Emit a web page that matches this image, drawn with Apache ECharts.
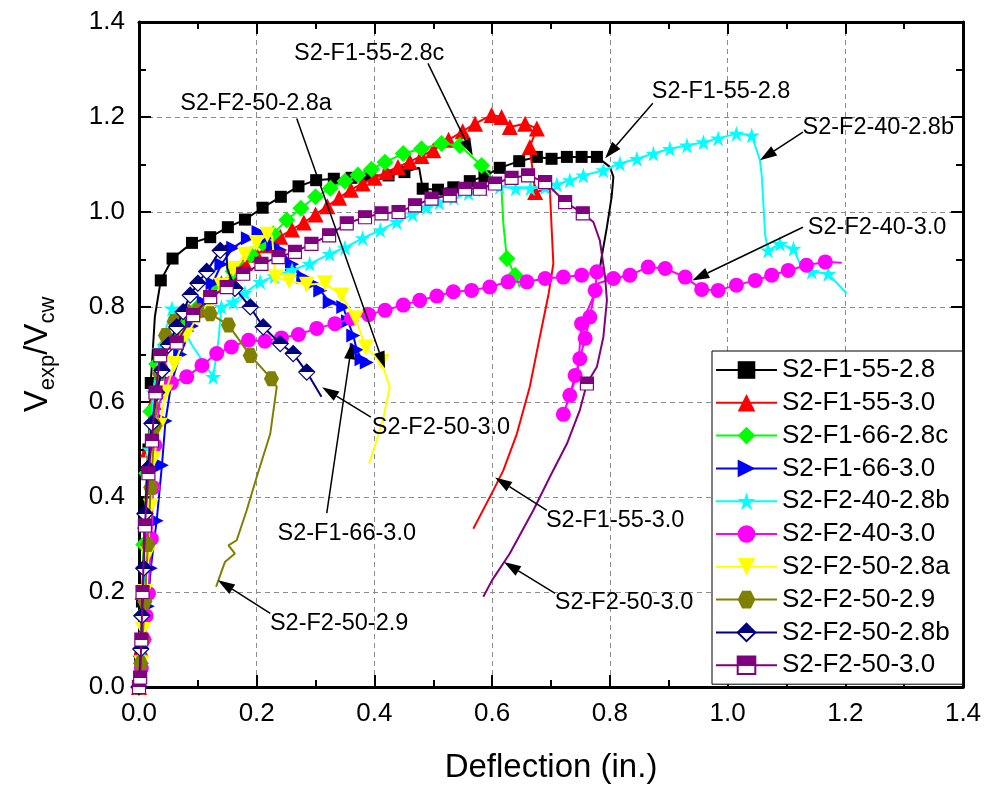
<!DOCTYPE html>
<html><head><meta charset="utf-8">
<script src="https://cdn.jsdelivr.net/npm/echarts@6/dist/echarts.min.js"></script>
<style>html,body{margin:0;padding:0;background:#fff}#c{width:989px;height:785px}</style>
</head><body><div id="c"></div>
<script>
// ---------- DATA (x = deflection in., y = Vexp/Vcw) ----------
const xTicks = [0, 0.2, 0.4, 0.6, 0.8, 1.0, 1.2, 1.4];
const yTicks = [0, 0.2, 0.4, 0.6, 0.8, 1.0, 1.2, 1.4];
const seriesNames = ['S2-F1-55-2.8','S2-F1-55-3.0','S2-F1-66-2.8c','S2-F1-66-3.0','S2-F2-40-2.8b','S2-F2-40-3.0','S2-F2-50-2.8a','S2-F2-50-2.9','S2-F2-50-2.8b','S2-F2-50-3.0'];

const f155_28 = [[0,0],[0.002,0.06],[0.005,0.18],[0.009,0.3],[0.012,0.386],[0.016,0.5],[0.02,0.64],[0.027,0.78],[0.037,0.856],[0.057,0.902],[0.09,0.935],[0.121,0.947],[0.151,0.968],[0.18,0.984],[0.21,1.009],[0.241,1.032],[0.271,1.054],[0.301,1.067],[0.331,1.07],[0.361,1.072],[0.392,1.077],[0.424,1.077],[0.451,1.084],[0.476,1.093],[0.482,1.049],[0.508,1.047],[0.534,1.052],[0.562,1.065],[0.587,1.075],[0.613,1.093],[0.646,1.107],[0.676,1.116],[0.701,1.112],[0.727,1.116],[0.752,1.116],[0.778,1.116],[0.8,1.095],[0.806,1.074],[0.803,1.032],[0.795,0.968],[0.786,0.905],[0.782,0.873]];
const f155_28_plain = [7,23,36,37,38,39,40,41];

const f155_30 = [[0,0],[0.003,0.08],[0.006,0.2],[0.01,0.35],[0.015,0.5],[0.025,0.6],[0.04,0.68],[0.06,0.73],[0.08,0.765],[0.1,0.795],[0.12,0.825],[0.14,0.85],[0.16,0.872],[0.18,0.892],[0.2,0.91],[0.22,0.93],[0.24,0.948],[0.26,0.963],[0.28,0.978],[0.3,0.995],[0.32,1.012],[0.34,1.03],[0.36,1.047],[0.38,1.06],[0.4,1.072],[0.42,1.084],[0.44,1.095],[0.46,1.106],[0.48,1.118],[0.5,1.13],[0.526,1.152],[0.55,1.17],[0.571,1.186],[0.599,1.204],[0.616,1.2],[0.63,1.179],[0.656,1.186],[0.676,1.176],[0.664,1.137],[0.673,1.042],[0.698,1.049],[0.701,0.968],[0.704,0.891],[0.696,0.828],[0.681,0.737],[0.664,0.632],[0.642,0.533],[0.619,0.456],[0.602,0.414],[0.568,0.333]];
const f155_30_plain = [40,41,42,43,44,45,46,47,48,49];

const f166_28c = [[0,0],[0.004,0.15],[0.008,0.3],[0.013,0.45],[0.02,0.58],[0.03,0.68],[0.045,0.72],[0.07,0.76],[0.1,0.8],[0.13,0.84],[0.16,0.875],[0.19,0.91],[0.21,0.935],[0.228,0.954],[0.251,0.983],[0.275,1.008],[0.3,1.032],[0.325,1.05],[0.35,1.065],[0.372,1.078],[0.395,1.09],[0.418,1.105],[0.449,1.123],[0.48,1.133],[0.514,1.144],[0.545,1.14],[0.582,1.098],[0.616,1.046],[0.619,0.976],[0.625,0.902],[0.639,0.867],[0.647,0.842]];
const f166_28c_plain = [27,28,31];

const f166_30 = [[0,0],[0.005,0.05],[0.01,0.1],[0.015,0.17],[0.02,0.25],[0.03,0.35],[0.039,0.467],[0.045,0.56],[0.055,0.64],[0.07,0.7],[0.09,0.76],[0.11,0.81],[0.125,0.85],[0.14,0.89],[0.16,0.925],[0.185,0.945],[0.203,0.958],[0.215,0.945],[0.228,0.93],[0.24,0.92],[0.26,0.89],[0.279,0.863],[0.295,0.85],[0.308,0.835],[0.324,0.81],[0.347,0.8],[0.355,0.77],[0.364,0.74],[0.37,0.71],[0.378,0.69],[0.387,0.683]];
const f166_30_plain = [];

const f240_28b = [[0,0],[0.004,0.08],[0.008,0.2],[0.012,0.35],[0.018,0.5],[0.025,0.62],[0.035,0.71],[0.056,0.797],[0.09,0.72],[0.126,0.653],[0.135,0.73],[0.14,0.8],[0.16,0.81],[0.18,0.83],[0.206,0.853],[0.23,0.865],[0.26,0.878],[0.29,0.891],[0.324,0.912],[0.35,0.925],[0.38,0.945],[0.41,0.962],[0.438,0.979],[0.465,0.995],[0.489,1.01],[0.51,1.02],[0.535,1.03],[0.56,1.04],[0.585,1.048],[0.613,1.053],[0.64,1.05],[0.665,1.05],[0.69,1.052],[0.71,1.058],[0.732,1.067],[0.755,1.077],[0.789,1.088],[0.817,1.102],[0.846,1.112],[0.874,1.123],[0.902,1.133],[0.931,1.14],[0.959,1.147],[0.984,1.155],[1.015,1.165],[1.041,1.161],[1.055,1.109],[1.058,1.077],[1.064,0.95],[1.069,0.919],[1.089,0.933],[1.112,0.923],[1.123,0.891],[1.143,0.874],[1.171,0.87],[1.202,0.829]];
const f240_28b_plain = [8,10,46,47,48,52,55];

const f240_30 = [[0,0],[0.004,0.04],[0.008,0.1],[0.012,0.15],[0.016,0.197],[0.021,0.312],[0.024,0.42],[0.027,0.509],[0.035,0.6],[0.055,0.64],[0.081,0.653],[0.107,0.677],[0.132,0.702],[0.157,0.716],[0.186,0.73],[0.214,0.728],[0.242,0.735],[0.271,0.742],[0.302,0.755],[0.333,0.765],[0.361,0.776],[0.39,0.784],[0.418,0.793],[0.449,0.804],[0.477,0.814],[0.506,0.823],[0.534,0.832],[0.565,0.835],[0.596,0.842],[0.627,0.853],[0.659,0.853],[0.69,0.86],[0.721,0.863],[0.752,0.867],[0.778,0.874],[0.775,0.835],[0.766,0.779],[0.758,0.734],[0.749,0.691],[0.741,0.656],[0.732,0.614],[0.721,0.574],[0.728,0.6],[0.745,0.66],[0.752,0.765],[0.768,0.81],[0.78,0.85],[0.806,0.86],[0.834,0.867],[0.865,0.884],[0.894,0.881],[0.928,0.863],[0.956,0.837],[0.984,0.835],[1.015,0.846],[1.047,0.856],[1.075,0.867],[1.103,0.877],[1.134,0.888],[1.166,0.895],[1.194,0.893]];
const f240_30_plain = [8,42,43,45,46,60];

const f250_28a = [[0,0],[0.004,0.05],[0.007,0.12],[0.01,0.2],[0.015,0.28],[0.02,0.38],[0.025,0.48],[0.035,0.55],[0.045,0.62],[0.06,0.68],[0.08,0.74],[0.1,0.78],[0.12,0.81],[0.14,0.845],[0.16,0.88],[0.18,0.91],[0.2,0.935],[0.218,0.952],[0.226,0.95],[0.232,0.862],[0.255,0.855],[0.285,0.847],[0.316,0.85],[0.344,0.824],[0.368,0.776],[0.385,0.715],[0.412,0.684],[0.426,0.632],[0.415,0.565],[0.404,0.52],[0.391,0.47]];
const f250_28a_plain = [18,27,28,29,30];

const f250_29 = [[0,0],[0.003,0.05],[0.006,0.1],[0.01,0.18],[0.015,0.3],[0.02,0.42],[0.027,0.55],[0.035,0.66],[0.045,0.74],[0.06,0.77],[0.08,0.79],[0.1,0.792],[0.121,0.786],[0.152,0.762],[0.189,0.698],[0.225,0.649],[0.234,0.632],[0.223,0.533],[0.2,0.442],[0.183,0.372],[0.166,0.309],[0.152,0.298],[0.163,0.281],[0.146,0.263],[0.141,0.246],[0.135,0.225],[0.131,0.211]];
const f250_29_plain = [16,17,18,19,20,21,22,23,24,25,26];

const f250_28b = [[0,0],[0.003,0.08],[0.005,0.15],[0.008,0.25],[0.01,0.365],[0.015,0.46],[0.022,0.555],[0.03,0.62],[0.039,0.667],[0.05,0.72],[0.064,0.758],[0.075,0.79],[0.087,0.825],[0.1,0.85],[0.115,0.875],[0.138,0.919],[0.148,0.93],[0.15,0.88],[0.163,0.839],[0.189,0.8],[0.211,0.758],[0.24,0.723],[0.262,0.702],[0.285,0.663],[0.31,0.611]];
const f250_28b_plain = [16,17,24];

const f250_30 = [[0,0],[0.002,0.02],[0.004,0.1],[0.006,0.2],[0.01,0.34],[0.016,0.45],[0.022,0.519],[0.028,0.62],[0.036,0.698],[0.064,0.725],[0.092,0.783],[0.121,0.821],[0.149,0.842],[0.177,0.87],[0.208,0.891],[0.237,0.905],[0.265,0.916],[0.293,0.933],[0.323,0.951],[0.353,0.976],[0.384,0.989],[0.412,0.997],[0.441,1.0],[0.469,1.014],[0.497,1.028],[0.528,1.035],[0.554,1.049],[0.579,1.049],[0.605,1.06],[0.633,1.072],[0.661,1.077],[0.69,1.063],[0.724,1.021],[0.754,0.997],[0.772,0.979],[0.783,0.94],[0.792,0.863],[0.795,0.814],[0.789,0.737],[0.778,0.674],[0.761,0.639],[0.749,0.583],[0.727,0.512],[0.698,0.442],[0.67,0.372],[0.63,0.281],[0.6,0.225],[0.585,0.19]];
const f250_30_plain = [34,35,36,37,38,39,41,42,43,44,45,46,47];

// annotation labels with leader arrows (data coordinates)
const annotations = [
  {text:'S2-F1-55-2.8c', at:[0.391,1.334], from:[0.491,1.313], to:[0.567,1.119]},
  {text:'S2-F2-50-2.8a', at:[0.199,1.229], from:[0.268,1.197], to:[0.418,0.671]},
  {text:'S2-F1-55-2.8',  at:[0.989,1.254], from:[0.873,1.229], to:[0.792,1.113]},
  {text:'S2-F2-40-2.8b', at:[1.256,1.178], from:[1.128,1.168], to:[1.055,1.109]},
  {text:'S2-F2-40-3.0',  at:[1.254,0.968], from:[1.128,0.968], to:[0.94,0.856]},
  {text:'S2-F2-50-3.0',  at:[0.513,0.547], from:[0.394,0.568], to:[0.311,0.631]},
  {text:'S2-F1-66-3.0',  at:[0.353,0.324], from:[0.319,0.366], to:[0.362,0.726]},
  {text:'S2-F2-50-2.9',  at:[0.34,0.134],  from:[0.223,0.155], to:[0.134,0.225]},
  {text:'S2-F1-55-3.0',  at:[0.809,0.351], from:[0.693,0.372], to:[0.605,0.441]},
  {text:'S2-F2-50-3.0',  at:[0.824,0.178], from:[0.707,0.197], to:[0.62,0.263]}
];

// ---------- STYLE ----------
const FONT = '"Liberation Sans", Arial, Helvetica, sans-serif';
const STAR = 'path://M50,0 L61.2,34.5 L97.6,34.5 L68.2,55.9 L79.4,90.5 L50,69.1 L20.6,90.5 L31.8,55.9 L2.4,34.5 L38.8,34.5 Z';
const HEX = 'path://M25,4 L75,4 L100,50 L75,96 L25,96 L0,50 Z';
function half(c){ return {type:'linear',x:0,y:0,x2:0,y2:1,colorStops:[{offset:0,color:c},{offset:0.52,color:c},{offset:0.52,color:'#fff'},{offset:1,color:'#fff'}]}; }
const styles = [
  {pts:f155_28, plain:f155_28_plain, color:'#000000', symbol:'rect', size:12},
  {pts:f155_30, plain:f155_30_plain, color:'#FF0000', symbol:'triangle', size:16},
  {pts:f166_28c, plain:f166_28c_plain, color:'#00FF00', symbol:'diamond', size:17},
  {pts:f166_30, plain:f166_30_plain, color:'#0000FF', symbol:'triangle', size:14, rotate:-90},
  {pts:f240_28b, plain:f240_28b_plain, color:'#00FFFF', symbol:STAR, size:16},
  {pts:f240_30, plain:f240_30_plain, color:'#FF00FF', symbol:'circle', size:15},
  {pts:f250_28a, plain:f250_28a_plain, color:'#FFFF00', symbol:'triangle', size:16, rotate:180},
  {pts:f250_29, plain:f250_29_plain, color:'#808000', symbol:HEX, size:15},
  {pts:f250_28b, plain:f250_28b_plain, color:'#000080', symbol:'diamond', size:16, fill:half('#000080'), border:true},
  {pts:f250_30, plain:f250_30_plain, color:'#800080', symbol:'rect', size:13, fill:half('#800080'), border:true}
];

const series = styles.map((s, k) => ({
  name: seriesNames[k],
  type: 'line',
  data: s.pts.map((p, i) => s.plain.indexOf(i) >= 0 ? {value: p, symbol: 'none'} : p),
  symbol: s.symbol,
  symbolSize: s.size,
  symbolRotate: s.rotate || 0,
  showSymbol: true,
  lineStyle: {color: s.color, width: 2},
  itemStyle: {color: s.fill || s.color, borderColor: s.color, borderWidth: s.border ? 1.2 : 0},
  emphasis: {disabled: true},
  animation: false,
  z: 2 + k
}));

const axisCommon = {
  type: 'value', min: 0, max: 1.4, interval: 0.2,
  axisLine: {show: true, onZero: false, lineStyle: {color: '#000', width: 3}},
  axisTick: {show: true, inside: true, length: 12, lineStyle: {color: '#000', width: 2}},
  minorTick: {show: true, splitNumber: 2, length: 7, lineStyle: {color: '#000', width: 2}}
};
const fmt = v => { const i = Math.round(v * 10) / 10; return xTicks.indexOf(i) >= 0 || yTicks.indexOf(i) >= 0 ? i.toFixed(1) : ''; };

const chart = echarts.init(document.getElementById('c'), null, {renderer: 'canvas'});
chart.setOption({
  animation: false,
  backgroundColor: '#fff',
  grid: {left: 139, top: 22, right: 26, bottom: 98, containLabel: false, outerBoundsMode: 'none'},
  xAxis: [
    Object.assign({}, axisCommon, {
      position: 'bottom',
      axisLabel: {formatter: fmt, fontSize: 26, color: '#000', fontFamily: FONT, margin: 14},
      splitLine: {show: true, lineStyle: {color: '#8c8c8c', width: 1, type: [5, 4]}},
      name: 'Deflection (in.)', nameLocation: 'middle', nameGap: 64,
      nameTextStyle: {fontSize: 33, color: '#000', fontFamily: FONT}
    }),
    Object.assign({}, axisCommon, {position: 'top', axisLabel: {show: false}, splitLine: {show: false}})
  ],
  yAxis: [
    Object.assign({}, axisCommon, {
      position: 'left',
      axisLabel: {formatter: fmt, fontSize: 26, color: '#000', fontFamily: FONT, margin: 14},
      splitLine: {show: true, lineStyle: {color: '#8c8c8c', width: 1, type: [5, 4]}},
      name: '{v|V}{s|exp}{v|/V}{s|cw}', nameLocation: 'middle', nameGap: 80,
      nameTextStyle: {color: '#000', fontFamily: FONT, rich: {
        v: {fontSize: 33, fontFamily: FONT, color: '#000', verticalAlign: 'top', lineHeight: 38},
        s: {fontSize: 22, fontFamily: FONT, color: '#000', verticalAlign: 'bottom', lineHeight: 38}
      }}
    }),
    Object.assign({}, axisCommon, {position: 'right', axisLabel: {show: false}, splitLine: {show: false}})
  ],
  legend: {
    orient: 'vertical', left: 712, top: 351,
    padding: [4, 13, 4, 3], itemWidth: 61, itemHeight: 22, itemGap: 2.8,
    backgroundColor: '#fff', borderColor: '#000', borderWidth: 1, borderRadius: 0,
    textStyle: {fontSize: 26, color: '#000', fontFamily: FONT, lineHeight: 30},
    data: seriesNames, selectedMode: false
  },
  series: series
});

// annotations drawn at data positions
const toPx = p => chart.convertToPixel({xAxisIndex: 0, yAxisIndex: 0}, p);
const gfx = [];
annotations.forEach(a => {
  const t = toPx(a.at), f = toPx(a.from), e = toPx(a.to);
  const dx = e[0] - f[0], dy = e[1] - f[1], L = Math.hypot(dx, dy);
  const ux = dx / L, uy = dy / L, hl = 17, hw = 5.5;
  const bx = e[0] - ux * hl, by = e[1] - uy * hl;
  gfx.push({type: 'line', z: 100, shape: {x1: f[0], y1: f[1], x2: bx, y2: by}, style: {stroke: '#000', lineWidth: 1.5}});
  gfx.push({type: 'polygon', z: 100, shape: {points: [[e[0], e[1]], [bx - uy * hw, by + ux * hw], [bx + uy * hw, by - ux * hw]]}, style: {fill: '#000'}});
  gfx.push({type: 'text', z: 101, x: t[0], y: t[1], style: {text: a.text, fill: '#000', font: '23.5px ' + FONT, align: 'center', verticalAlign: 'middle'}});
});
chart.setOption({graphic: gfx});
</script></body></html>
